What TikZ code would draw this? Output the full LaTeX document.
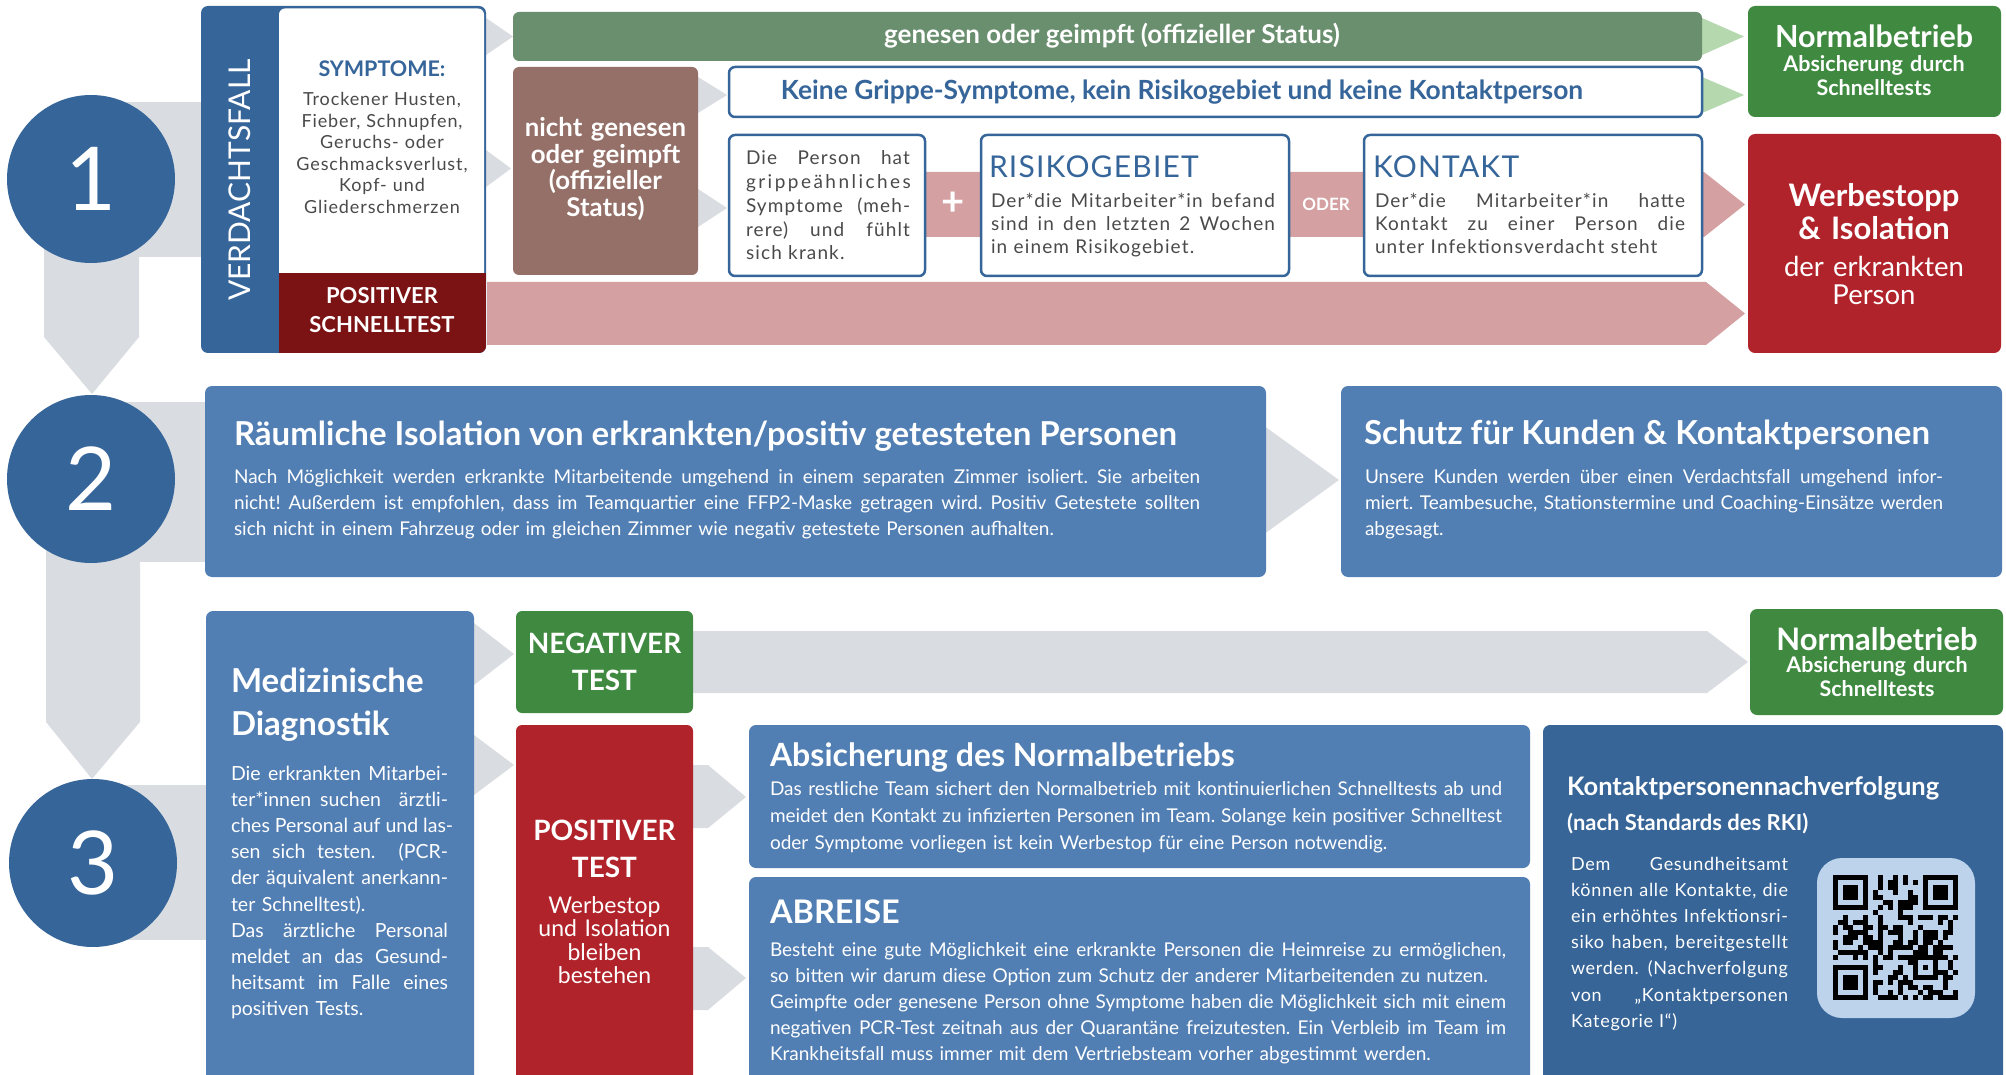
\documentclass[tikz,border=0pt]{standalone}
\usepackage{fontspec}
\setmainfont{Lato}
\definecolor{dkblue}{HTML}{36659A}
\definecolor{mdblue}{HTML}{517EB3}
\definecolor{kblue}{HTML}{376597}
\definecolor{lgray}{HTML}{D9DCE0}
\definecolor{sgreen}{HTML}{6A8F6E}
\definecolor{lgreen}{HTML}{B5D8AF}
\definecolor{dgreen}{HTML}{3F8A40}
\definecolor{brownbox}{HTML}{957068}
\definecolor{pinkband}{HTML}{D4A0A1}
\definecolor{wred}{HTML}{B1232A}
\definecolor{dred}{HTML}{7B1214}
\definecolor{qrbg}{HTML}{BDD3EC}
\definecolor{txtgray}{HTML}{4A4A4A}
\newcommand\J[1]{\makebox[\hsize][s]{\spaceskip=\fontdimen2\font plus 1fil\relax #1}}
\newcommand\fs[2]{\fontsize{#1}{#2}\selectfont}
\newcommand\trk[1]{\addfontfeature{LetterSpace=#1}}
\begin{document}
\frenchspacing
\begin{tikzpicture}[x=1pt,y=-1pt,
  boxn/.style={anchor=north west, inner sep=0pt, outer sep=0pt, rounded corners=7pt},
  wbox/.style={boxn, fill=white, draw=dkblue, line width=2.5pt, rounded corners=6pt},
  txt/.style={inner sep=0pt, outer sep=0pt},
  num/.style={circle, fill=dkblue, minimum size=168pt, inner sep=0pt, text=white, font=\fs{88}{88}},
  conn/.style={fill=lgray},
  gconn/.style={fill=lgreen}]
\useasboundingbox (0,0) rectangle (2006,1075);
\clip (0,0) rectangle (2006,1075);
% gray step connectors
\fill[conn] (90,102) rectangle (202,257);
\fill[conn] (44,180) -- (139,180) -- (139,337) -- (92,394) -- (44,337) -- cycle;
\fill[conn] (90,402) rectangle (206,562);
\fill[conn] (46,479) -- (140,479) -- (140,722) -- (92,779) -- (46,722) -- cycle;
\fill[conn] (90,785) rectangle (207,940);
\node[num] (n1) at (91,179) {1};
\node[num] (n2) at (91,479) {2};
\node[num] (n3) at (93,863) {3};

% ---------- row 1 ----------
\fill[conn] (486,18) -- (513,36.5) -- (486,55) -- cycle;
\fill[conn] (486,150) -- (511,168.5) -- (486,187) -- cycle;
\fill[conn] (698,77) -- (727,95) -- (698,113) -- cycle;
\fill[conn] (698,189) -- (727,208) -- (698,227) -- cycle;
\fill[gconn] (1702,18) -- (1744,36.5) -- (1702,55) -- cycle;
\fill[gconn] (1702,77) -- (1744,95) -- (1702,113) -- cycle;
\fill[pinkband] (925,172) -- (1704,172) -- (1745,204.5) -- (1704,237) -- (925,237) -- cycle;
\fill[pinkband] (487,282) -- (1706,282) -- (1745,313.5) -- (1706,345) -- (487,345) -- cycle;

\node[boxn, fill=dkblue, minimum width=285pt, minimum height=347pt] (vf) at (201,6) {};
\fill[white, rounded corners=6pt] (279,8.5) rectangle (484,290);
\begin{scope}
\clip[rounded corners=7pt] (201,6) rectangle (486,353);
\fill[dred] (279,273) rectangle (486,353);
\end{scope}
\node[txt, rotate=90, text=white, font=\fs{30}{30}] (vflabel) at (240,180) {VERDACHTSFALL};
\node[txt, anchor=base, text=dkblue, font=\bfseries\fs{21.5}{22}] (sym) at (382,77) {SYMPTOME:};
\node[txt, anchor=base, text width=205pt, align=center, text=txtgray, font=\fs{18}{21.5}\trk{5}] (symtxt) at (382,106)
  {Trockener Husten,\\Fieber, Schnupfen,\\Geruchs- oder\\Geschmacksverlust,\\Kopf- und\\Gliederschmerzen};
\node[txt, anchor=base, text width=205pt, align=center, text=white, font=\bfseries\fs{22}{29}] (pschnell) at (382,304)
  {POSITIVER\\SCHNELLTEST};

\node[boxn, fill=sgreen, minimum width=1189pt, minimum height=49pt, rounded corners=6pt] (gen) at (513,12) {};
\node[txt, anchor=base, text=white, font=\bfseries\fs{26}{28}] (gentxt) at (1112,44) {genesen oder geimpft (offizieller Status)};

\node[boxn, fill=brownbox, minimum width=185pt, minimum height=208pt, rounded corners=6pt] (ngen) at (513,67) {};
\node[txt, anchor=base, text=white, text width=185pt, align=center, font=\bfseries\fs{25.8}{26.5}] (ngentxt) at (605.5,137)
  {nicht genesen\\oder geimpft\\(offizieller\\Status)};

\node[wbox, minimum width=973pt, minimum height=50pt] (keine) at (729,67) {};
\node[txt, anchor=base, text=dkblue, font=\bfseries\fs{26.4}{28}] (keinetxt) at (1182,100)
  {Keine Grippe-Symptome, kein Risikogebiet und keine Kontaktperson};

\node[wbox, minimum width=196pt, minimum height=141pt] (person) at (729,135) {};
\node[txt, anchor=base west, text width=164pt, align=left, text=txtgray, font=\fs{19}{23.7}\trk{6}] (persontxt) at (746,165)
  {\J{Die Person hat}\\{\trk{13}grippeähnliches}\\\J{Symptome (meh-}\\\J{rere) und fühlt}\\sich krank.};

\node[wbox, minimum width=308pt, minimum height=141pt] (risiko) at (981,135) {};
\node[txt, anchor=base west, text=dkblue, font=\fs{30}{30}\trk{4}] (risikot) at (989,178) {RISIKOGEBIET};
\node[txt, anchor=base west, text width=284pt, align=left, text=txtgray, font=\fs{19}{23}\trk{6}] (risikotxt) at (991,208)
  {\J{Der*die Mitarbeiter*in befand}\\\J{sind in den letzten 2 Wochen}\\in einem Risikogebiet.};

\node[wbox, minimum width=338pt, minimum height=141pt] (kontakt) at (1364,135) {};
\node[txt, anchor=base west, text=dkblue, font=\fs{30}{30}\trk{4}] (kontaktt) at (1373,178) {KONTAKT};
\node[txt, anchor=base west, text width=310pt, align=left, text=txtgray, font=\fs{19}{23}\trk{6}] (kontakttxt) at (1375,208)
  {\J{Der*die Mitarbeiter*in hatte}\\\J{Kontakt zu einer Person die}\\unter Infektionsverdacht steht};

\node[txt, text=white, font=\bfseries\fs{40}{40}] (plus) at (953,204) {+};
\node[txt, text=white, font=\bfseries\fs{17}{17}] (oder) at (1326,204) {ODER};

\node[boxn, fill=dgreen, minimum width=253pt, minimum height=111pt] (norm1) at (1748,6) {};
\node[txt, anchor=base, text=white, font=\bfseries\fs{30.5}{31}] (norm1t) at (1874,48) {Normalbetrieb};
\node[txt, anchor=base, text width=253pt, align=center, text=white, font=\bfseries\fs{21.5}{23.5}] (norm1s) at (1874,72)
  {Absicherung durch\\Schnelltests};

\node[boxn, fill=wred, minimum width=253pt, minimum height=219pt] (stop1) at (1748,134) {};
\node[txt, anchor=base, text width=253pt, align=center, text=white, font=\bfseries\fs{31}{33}] (stop1t) at (1874,207)
  {Werbestopp\\\& Isolation};
\node[txt, anchor=base, text width=253pt, align=center, text=white, font=\fs{27.5}{28}] (stop1s) at (1874,277)
  {der erkrankten\\Person};

% ---------- row 2 ----------
\fill[conn] (1260,423) -- (1339,480) -- (1260,537) -- cycle;
\node[boxn, fill=mdblue, minimum width=1061pt, minimum height=191pt] (iso) at (205,386) {};
\node[txt, anchor=base west, text=white, font=\bfseries\fs{33}{34}] (isot) at (234,445)
  {Räumliche Isolation von erkrankten/positiv getesteten Personen};
\node[txt, anchor=base west, text width=966pt, align=left, text=white, font=\fs{19}{26}] (isotxt) at (234,483)
  {\J{Nach Möglichkeit werden erkrankte Mitarbeitende umgehend in einem separaten Zimmer isoliert. Sie arbeiten}\\
   \J{nicht! Außerdem ist empfohlen, dass im Teamquartier eine FFP2-Maske getragen wird. Positiv Getestete sollten}\\
   sich nicht in einem Fahrzeug oder im gleichen Zimmer wie negativ getestete Personen aufhalten.};

\node[boxn, fill=mdblue, minimum width=661pt, minimum height=191pt] (schutz) at (1341,386) {};
\node[txt, anchor=base west, text=white, font=\bfseries\fs{33}{34}] (schutzt) at (1364,444)
  {Schutz für Kunden \& Kontaktpersonen};
\node[txt, anchor=base west, text width=578pt, align=left, text=white, font=\fs{19}{26}] (schutztxt) at (1365,483)
  {\J{Unsere Kunden werden über einen Verdachtsfall umgehend infor-}\\
   \J{miert. Teambesuche, Stationstermine und Coaching-Einsätze werden}\\
   abgesagt.};

% ---------- row 3 ----------
\fill[conn] (474,623) -- (514,654) -- (474,685) -- cycle;
\fill[conn] (474,735) -- (514,765) -- (474,795) -- cycle;
\fill[conn] (693,765) -- (708,765) -- (746,797) -- (708,828) -- (693,828) -- cycle;
\fill[conn] (693,947) -- (708,947) -- (746,978) -- (708,1010) -- (693,1010) -- cycle;
\fill[conn] (693,631) -- (1707,631) -- (1748,662) -- (1707,693) -- (693,693) -- cycle;

\node[boxn, fill=mdblue, minimum width=268pt, minimum height=500pt] (med) at (206,611) {};
\node[txt, anchor=base west, text width=240pt, align=left, text=white, font=\bfseries\fs{33}{43}] (medt) at (231,692)
  {Medizinische\\Diagnostik};
\node[txt, anchor=base west, text width=217pt, align=left, text=white, font=\fs{19.5}{26.2}] (medtxt) at (231,780)
  {\J{Die erkrankten Mitarbei-}\\\J{ter*innen suchen \ ärztli-}\\\J{ches Personal auf und las-}\\\J{sen sich testen. \ (PCR-}\\
   \J{der äquivalent anerkann-}\\ter Schnelltest).\\\J{Das ärztliche Personal}\\\J{meldet an das Gesund-}\\
   \J{heitsamt im Falle eines}\\positiven Tests.};

\node[boxn, fill=dgreen, minimum width=177pt, minimum height=102pt, rounded corners=6pt] (neg) at (516,611) {};
\node[txt, anchor=base, text width=177pt, align=center, text=white, font=\bfseries\fs{28}{37}] (negt) at (604.5,653)
  {NEGATIVER\\TEST};
\node[boxn, fill=wred, minimum width=177pt, minimum height=400pt, rounded corners=6pt] (pos) at (516,725) {};
\node[txt, anchor=base, text width=177pt, align=center, text=white, font=\bfseries\fs{28}{37}] (post) at (604.5,840)
  {POSITIVER\\TEST};
\node[txt, anchor=base, text width=177pt, align=center, text=white, font=\fs{23}{23.5}] (poss) at (604.5,913)
  {Werbestop\\und Isolation\\bleiben\\bestehen};

\node[boxn, fill=dgreen, minimum width=253pt, minimum height=106pt] (norm2) at (1750,609) {};
\node[txt, anchor=base, text=white, font=\bfseries\fs{31}{31}] (norm2t) at (1877,650) {Normalbetrieb};
\node[txt, anchor=base, text width=253pt, align=center, text=white, font=\bfseries\fs{21.5}{24}] (norm2s) at (1877,672)
  {Absicherung durch\\Schnelltests};

\node[boxn, fill=mdblue, minimum width=781pt, minimum height=143pt] (absi) at (749,725) {};
\node[txt, anchor=base west, text=white, font=\bfseries\fs{32}{33}] (absit) at (770,766) {Absicherung des Normalbetriebs};
\node[txt, anchor=base west, text width=732pt, align=left, text=white, font=\fs{19}{27}] (absitxt) at (770,795)
  {\J{Das restliche Team sichert den Normalbetrieb mit kontinuierlichen Schnelltests ab und}\\
   \J{meidet den Kontakt zu infizierten Personen im Team. Solange kein positiver Schnelltest}\\
   oder Symptome vorliegen ist kein Werbestop für eine Person notwendig.};

\node[boxn, fill=mdblue, minimum width=781pt, minimum height=300pt] (abr) at (749,877) {};
\node[txt, anchor=base west, text=white, font=\bfseries\fs{32.5}{33}] (abrt) at (770,923) {ABREISE};
\node[txt, anchor=base west, text width=736pt, align=left, text=white, font=\fs{19}{26}] (abrtxt) at (770,956)
  {\J{Besteht eine gute Möglichkeit eine erkrankte Personen die Heimreise zu ermöglichen,}\\
   so bitten wir darum diese Option zum Schutz der anderer Mitarbeitenden zu nutzen.\\
   \J{Geimpfte oder genesene Person ohne Symptome haben die Möglichkeit sich mit einem}\\
   \J{negativen PCR-Test zeitnah aus der Quarantäne freizutesten. Ein Verbleib im Team im}\\
   Krankheitsfall muss immer mit dem Vertriebsteam vorher abgestimmt werden.};

\node[boxn, fill=kblue, minimum width=460pt, minimum height=400pt] (kp) at (1543,725) {};
\node[txt, anchor=base west, text=white, font=\bfseries\fs{25.5}{26}] (kpt) at (1567,795) {Kontaktpersonennachverfolgung};
\node[txt, anchor=base west, text=white, font=\bfseries\fs{22}{22}] (kps) at (1567,830) {(nach Standards des RKI)};
\node[txt, anchor=base west, text width=217pt, align=left, text=white, font=\fs{18}{26.2}\trk{4}] (kptxt) at (1571,870)
  {\J{Dem Gesundheitsamt}\\\J{können alle Kontakte, die}\\\J{ein erhöhtes Infektionsri-}\\\J{siko haben, bereitgestellt}\\
   \J{werden. (Nachverfolgung}\\\J{von „Kontaktpersonen}\\Kategorie I“)};

% QR code
\node[boxn, fill=qrbg, minimum width=158pt, minimum height=160pt, rounded corners=25pt] (qrbox) at (1817,858) {};
\pgfmathsetseed{20}
\foreach \i in {0,...,24}{
  \foreach \j in {0,...,24}{
    \pgfmathsetmacro\on{(rnd>0.5) && !((\i<8 && \j<8) || (\i>16 && \j<8) || (\i<8 && \j>16) || (\i>15 && \i<21 && \j>15 && \j<21))}
    \ifdim\on pt>0.5pt \fill[black] (1833+5*\i,875+5*\j) rectangle ++(5,5); \fi
  }
}
\foreach \fx/\fy in {0/0,18/0,0/18}{
  \fill[black] (1833+5*\fx,875+5*\fy) rectangle ++(35,35);
  \fill[qrbg] (1838+5*\fx,880+5*\fy) rectangle ++(25,25);
  \fill[black] (1843+5*\fx,885+5*\fy) rectangle ++(15,15);
}
\fill[black] (1913,955) rectangle ++(25,25);
\fill[qrbg] (1918,960) rectangle ++(15,15);
\fill[black] (1923,965) rectangle ++(5,5);
\end{tikzpicture}
\end{document}
